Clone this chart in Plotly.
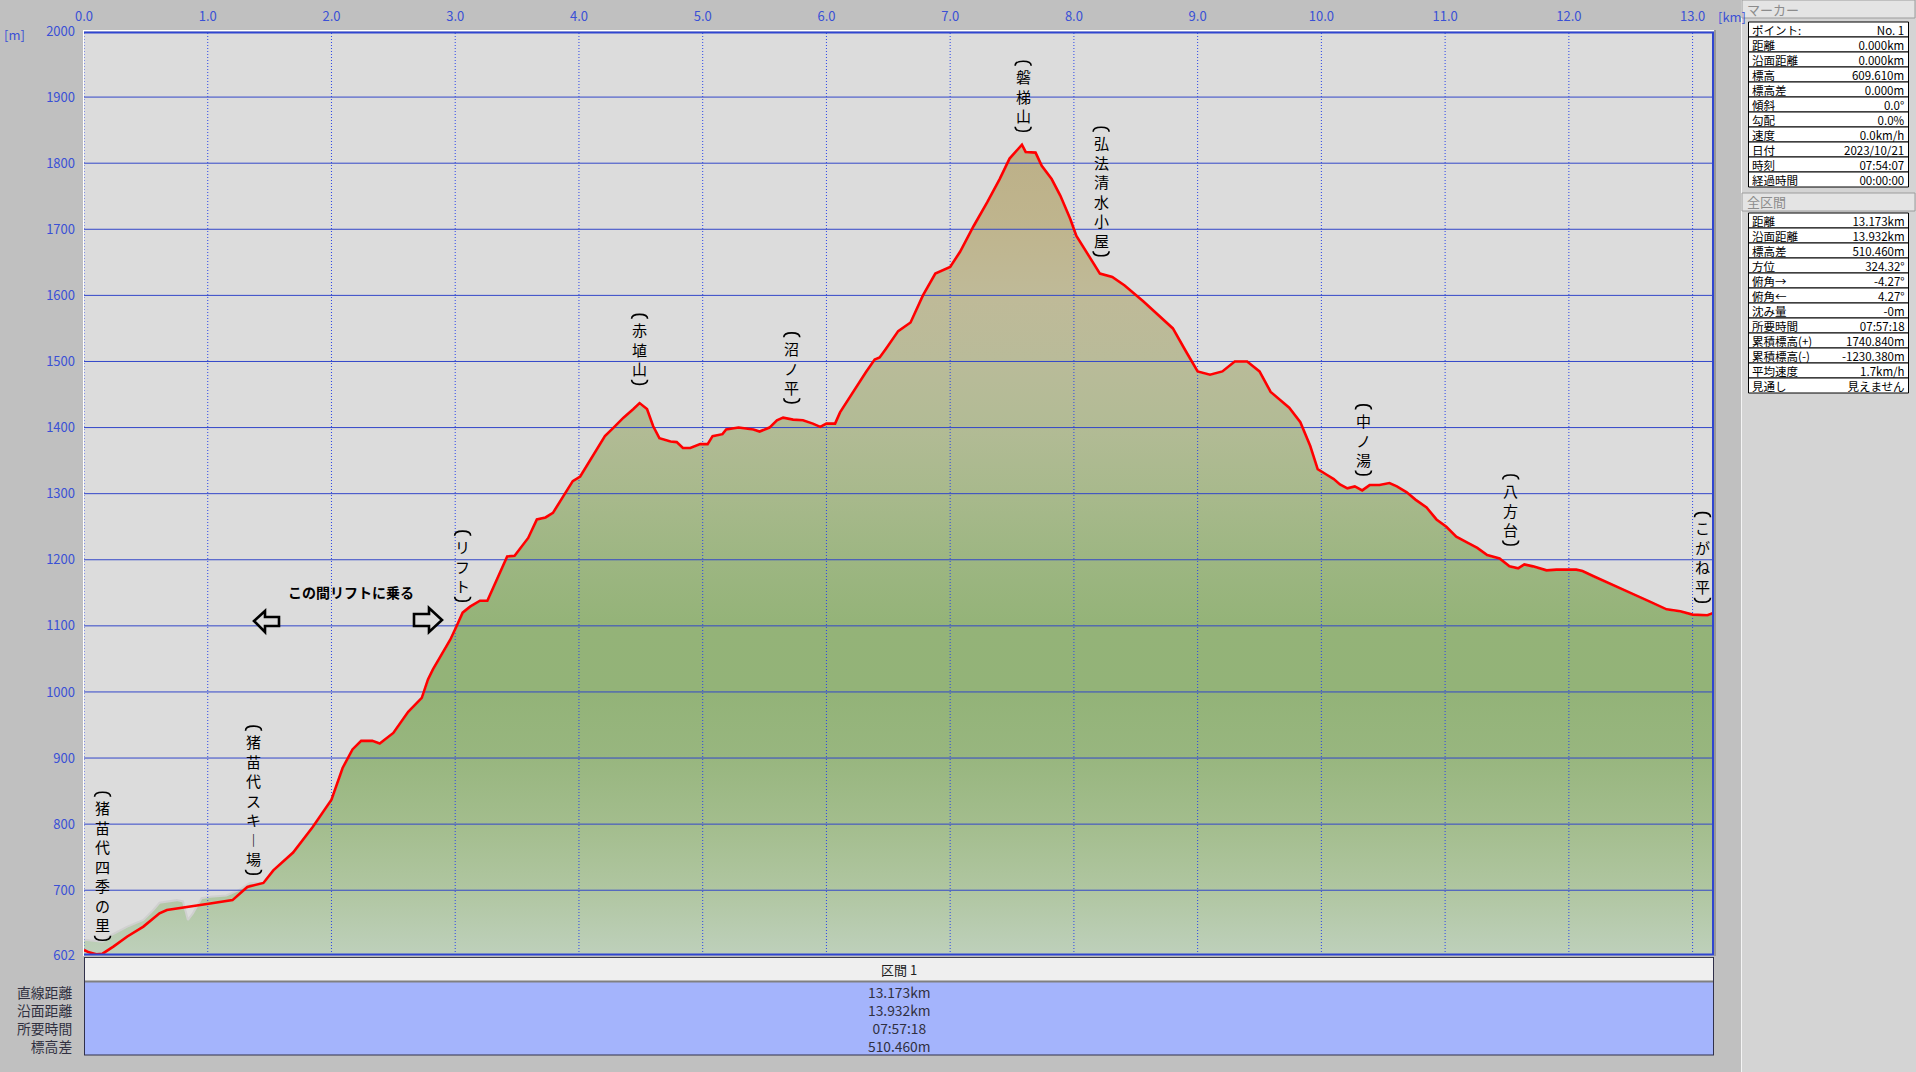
import plotly.graph_objects as go

# ---------------- data ----------------
track_km = [0.00, 0.04, 0.10, 0.15, 0.24, 0.35, 0.48, 0.61, 0.67, 0.83, 1.02, 1.20, 1.32, 1.45, 1.53, 1.69,
            1.85, 2.00, 2.09, 2.17, 2.24, 2.33, 2.39, 2.50, 2.62, 2.73, 2.78, 2.82, 2.96, 3.01, 3.06, 3.12,
            3.20, 3.26, 3.30, 3.36, 3.42, 3.48, 3.52, 3.59, 3.66, 3.73, 3.79, 3.87, 3.95, 4.01, 4.11, 4.21,
            4.28, 4.36, 4.44, 4.49, 4.55, 4.60, 4.65, 4.74, 4.79, 4.84, 4.90, 4.98, 5.04, 5.08, 5.16, 5.19,
            5.29, 5.41, 5.46, 5.54, 5.60, 5.65, 5.73, 5.81, 5.89, 5.95, 6.00, 6.07, 6.11, 6.16, 6.24, 6.32,
            6.39, 6.43, 6.48, 6.58, 6.68, 6.78, 6.88, 7.00, 7.08, 7.19, 7.30, 7.40, 7.48, 7.54, 7.58, 7.61,
            7.69, 7.74, 7.82, 7.89, 7.97, 8.02, 8.10, 8.17, 8.21, 8.31, 8.41, 8.56, 8.71, 8.80, 8.90, 9.00,
            9.10, 9.20, 9.30, 9.40, 9.50, 9.59, 9.74, 9.83, 9.91, 9.97, 10.04, 10.10, 10.15, 10.21, 10.27,
            10.33, 10.39, 10.47, 10.55, 10.61, 10.69, 10.76, 10.85, 10.93, 11.01, 11.09, 11.18, 11.26,
            11.34, 11.44, 11.52, 11.59, 11.64, 11.71, 11.82, 11.90, 12.06, 12.11, 12.20, 12.31, 12.41,
            12.52, 12.65, 12.79, 12.90, 13.00, 13.12, 13.173]
track_m = [609.6, 606, 603, 604, 615, 630, 645, 665, 670, 675, 680, 685, 705, 711, 730, 757,
           796, 837, 885, 913, 926, 926, 922, 938, 970, 991, 1019, 1034, 1079, 1099, 1120, 1129,
           1138, 1138, 1155, 1181, 1205, 1206, 1216, 1233, 1261, 1264, 1271, 1296, 1319, 1326, 1357, 1387,
           1400, 1415, 1428, 1437, 1428, 1402, 1384, 1379, 1378, 1369, 1369, 1375, 1375, 1387, 1390, 1397,
           1400, 1397, 1394, 1400, 1411, 1415, 1412, 1411, 1406, 1401, 1406, 1406, 1423, 1438, 1461, 1484,
           1503, 1506, 1519, 1546, 1559, 1600, 1633, 1643, 1666, 1705, 1741, 1776, 1807, 1819, 1828, 1817,
           1816, 1796, 1776, 1751, 1716, 1690, 1666, 1643, 1633, 1628, 1615, 1591, 1565, 1550, 1517, 1485,
           1480, 1485, 1500, 1500, 1485, 1454, 1430, 1408, 1372, 1337, 1329, 1322, 1314, 1308, 1311,
           1305, 1313, 1313, 1316, 1311, 1302, 1291, 1279, 1261, 1250, 1235, 1226, 1218,
           1207, 1202, 1190, 1187, 1193, 1190, 1184, 1185, 1185, 1183, 1175, 1166, 1158,
           1148, 1137, 1125, 1122, 1117, 1116, 1120.07]

# map (DEM) elevation where it differs from the track near the start
terrain_start_km = [0.00, 0.15, 0.22, 0.35, 0.48, 0.56, 0.61, 0.75, 0.80, 0.84, 0.88, 0.95, 1.02, 1.15, 1.25, 1.34, 1.45]
terrain_start_m = [625, 622, 632, 645, 655, 670, 681, 685, 683, 655, 665, 688, 690, 692, 700, 711, 711]

total_km = 13.173
y_min, y_max = 602, 2000
x_ticks = list(range(0, 14))
x_tick_labels = ["%.1f" % v for v in x_ticks]
y_ticks = [602, 700, 800, 900, 1000, 1100, 1200, 1300, 1400, 1500, 1600, 1700, 1800, 1900, 2000]
y_tick_labels = [str(v) for v in y_ticks]
y_grid = [700, 800, 900, 1000, 1100, 1200, 1300, 1400, 1500, 1600, 1700, 1800, 1900]

# place-name labels: text, km, elevation of the label top
place_names = ["猪苗代四季の里", "猪苗代スキー場", "リフト", "赤埴山", "沼ノ平", "磐梯山",
               "弘法清水小屋", "中ノ湯", "八方台", "こがね平"]
place_km = [0.15, 1.37, 3.06, 4.49, 5.72, 7.59, 8.22, 10.34, 11.53, 13.08]
place_top_m = [846, 946, 1241, 1569, 1541, 1952, 1852, 1432, 1326, 1269]

lift_note = "この間リフトに乗る"

section_title = "区間 1"
section_row_names = ["直線距離", "沿面距離", "所要時間", "標高差"]
section_row_values = ["13.173km", "13.932km", "07:57:18", "510.460m"]

marker_title = "マーカー"
marker_names = ["ポイント:", "距離", "沿面距離", "標高", "標高差", "傾斜", "勾配", "速度", "日付", "時刻", "経過時間"]
marker_values = ["No. 1", "0.000km", "0.000km", "609.610m", "0.000m", "0.0°", "0.0%", "0.0km/h",
                 "2023/10/21", "07:54:07", "00:00:00"]
total_title = "全区間"
total_names = ["距離", "沿面距離", "標高差", "方位", "俯角→", "俯角←", "沈み量", "所要時間",
               "累積標高(+)", "累積標高(-)", "平均速度", "見通し"]
total_values = ["13.173km", "13.932km", "510.460m", "324.32°", "-4.27°", "4.27°", "-0m", "07:57:18",
                "1740.840m", "-1230.380m", "1.7km/h", "見えません"]

# ---------------- styling ----------------
JP = "Noto Sans CJK JP"
BLUE_TXT = "#3a50d6"
GRID = "#3347c9"
W, H = 1916, 1072
L, R, T, B = 84, 1714, 31, 955
KM_PER_PX = total_km / (R - L)
M_PER_PX = (y_max - y_min) / (B - T)


def pxx(xp):
    return (xp - L) / (R - L)


def pxy(yp):
    return (B - yp) / (B - T)


grad = [
    [0.000, "#bed0bb"], [0.070, "#b0c6a1"], [0.142, "#a3bd8d"], [0.213, "#98b67f"],
    [0.285, "#93b378"], [0.356, "#94b378"], [0.428, "#9db682"], [0.499, "#a8b98c"],
    [0.571, "#b2bb95"], [0.642, "#b9bb99"], [0.714, "#bfba98"], [0.785, "#bfb58e"],
    [0.857, "#bdb189"], [1.000, "#bcaf86"],
]

fig = go.Figure()

cut = terrain_start_km[-1]
terrain_km = terrain_start_km + [k for k in track_km if k > cut]
terrain_m = terrain_start_m + [m for k, m in zip(track_km, track_m) if k > cut]

fig.add_trace(go.Scatter(
    x=terrain_km, y=terrain_m, mode="lines", fill="tozeroy",
    fillgradient=dict(type="vertical", colorscale=grad, start=y_min, stop=y_max),
    line=dict(color="#d0d0d0", width=2), hoverinfo="skip", showlegend=False))

hx, hy = [], []
for v in y_grid:
    hx += [0, total_km, None]
    hy += [v, v, None]
fig.add_trace(go.Scatter(x=hx, y=hy, mode="lines", line=dict(color=GRID, width=1),
                         hoverinfo="skip", showlegend=False))
vx, vy = [], []
for k in x_ticks:
    vx += [k, k, None]
    vy += [y_min, y_max, None]
fig.add_trace(go.Scatter(x=vx, y=vy, mode="lines", line=dict(color="#2b45e8", width=1, dash="1px,2px"),
                         hoverinfo="skip", showlegend=False))

fig.add_trace(go.Scatter(x=track_km, y=track_m, mode="lines", line=dict(color="#ff0000", width=2.6),
                         hoverinfo="skip", showlegend=False))

ann = []
shapes = []

# vertical place labels (one text per label, top to bottom) with arc brackets
LINE = 19.5   # line pitch of the stacked characters (15px font * 1.3)
BR_GAP = 14   # distance from bracket to neighbouring character


def bracket_path(km, m, opening):
    s = 1 if opening else -1
    pts = [(-8, 3 * s), (-8, -1 * s), (-3, -1.5 * s), (0, -1.5 * s), (3, -1.5 * s), (8, -1 * s), (8, 3 * s)]
    xy = [(km + dx * KM_PER_PX, m - dy * M_PER_PX) for dx, dy in pts]
    f = lambda p: "%.5f,%.4f" % p
    return "M %s C %s %s %s C %s %s %s" % tuple(f(p) for p in xy)


for name, km, top in zip(place_names, place_km, place_top_m):
    chars = [("︱" if c == "ー" else c) for c in name]
    n = len(chars)
    ann.append(dict(x=km, y=top, xref="x", yref="y", text="<br>".join(chars), showarrow=False,
                    yshift=-(BR_GAP + LINE * (n - 1) / 2.0), xanchor="center", yanchor="middle", align="center",
                    font=dict(family=JP, size=15, color="#000000")))
    bottom = top - (2 * BR_GAP + LINE * (n - 1)) * M_PER_PX
    shapes.append(dict(type="path", xref="x", yref="y", path=bracket_path(km, top, True),
                       line=dict(color="#000000", width=1.6), layer="above"))
    shapes.append(dict(type="path", xref="x", yref="y", path=bracket_path(km, bottom, False),
                       line=dict(color="#000000", width=1.6), layer="above"))

# lift note and outlined arrows
ann.append(dict(x=pxx(351), y=pxy(592), xref="paper", yref="paper", text="<b>%s</b>" % lift_note,
                showarrow=False, xanchor="center", yanchor="middle",
                font=dict(family=JP, size=14, color="#000000")))


def arrow_path(pts):
    return "M " + " L ".join("%.6f,%.6f" % (pxx(a), pxy(b)) for a, b in pts) + " Z"


left_arrow = [(254, 621), (265, 611), (265, 617), (279, 617), (279, 626), (265, 626), (265, 632)]
right_arrow = [(442, 620), (429, 608), (429, 614), (414, 614), (414, 626), (429, 626), (429, 632)]
for pts in (left_arrow, right_arrow):
    shapes.append(dict(type="path", xref="paper", yref="paper", path=arrow_path(pts),
                       fillcolor="#dcdcdc", line=dict(color="#000000", width=2.6), layer="above"))

# unit labels
ann.append(dict(x=pxx(2), y=pxy(34), xref="paper", yref="paper", text="[m]", showarrow=False,
                xanchor="left", yanchor="middle", font=dict(family=JP, size=13, color=BLUE_TXT)))
ann.append(dict(x=pxx(1716), y=pxy(16), xref="paper", yref="paper", text="[km]", showarrow=False,
                xanchor="left", yanchor="middle", font=dict(family=JP, size=13, color=BLUE_TXT)))

# plot frame
shapes.append(dict(type="line", xref="paper", yref="paper", x0=pxx(83), x1=pxx(1714), y0=pxy(30.5), y1=pxy(30.5),
                   line=dict(color="#ffffff", width=1), layer="above"))
shapes.append(dict(type="line", xref="paper", yref="paper", x0=pxx(83.5), x1=pxx(83.5), y0=pxy(30.5), y1=pxy(956),
                   line=dict(color="#ffffff", width=1), layer="above"))
shapes.append(dict(type="line", xref="paper", yref="paper", x0=pxx(84), x1=pxx(1714), y0=pxy(32.5), y1=pxy(32.5),
                   line=dict(color="#2f45d0", width=2), layer="above"))
shapes.append(dict(type="line", xref="paper", yref="paper", x0=pxx(1713), x1=pxx(1713), y0=pxy(32), y1=pxy(955),
                   line=dict(color="#2f45d0", width=2), layer="above"))
shapes.append(dict(type="line", xref="paper", yref="paper", x0=pxx(1715), x1=pxx(1715), y0=pxy(30), y1=pxy(956),
                   line=dict(color="#707070", width=1), layer="above"))
shapes.append(dict(type="line", xref="paper", yref="paper", x0=pxx(84), x1=pxx(1714), y0=pxy(954.5), y1=pxy(954.5),
                   line=dict(color="#2f45d0", width=2), layer="above"))

# bottom section table
shapes.append(dict(type="rect", xref="paper", yref="paper", x0=pxx(84), x1=pxx(1714), y0=pxy(957), y1=pxy(982),
                   fillcolor="#efefef", line=dict(width=0), layer="above"))
shapes.append(dict(type="rect", xref="paper", yref="paper", x0=pxx(84), x1=pxx(1714), y0=pxy(982), y1=pxy(1055),
                   fillcolor="#a4b4fc", line=dict(width=0), layer="above"))
shapes.append(dict(type="line", xref="paper", yref="paper", x0=pxx(84), x1=pxx(1714), y0=pxy(957.5), y1=pxy(957.5),
                   line=dict(color="#3c3c48", width=1), layer="above"))
shapes.append(dict(type="line", xref="paper", yref="paper", x0=pxx(84), x1=pxx(1714), y0=pxy(981.5), y1=pxy(981.5),
                   line=dict(color="#808080", width=2), layer="above"))
shapes.append(dict(type="line", xref="paper", yref="paper", x0=pxx(84), x1=pxx(1714), y0=pxy(1055), y1=pxy(1055),
                   line=dict(color="#30304a", width=1), layer="above"))
shapes.append(dict(type="line", xref="paper", yref="paper", x0=pxx(84.5), x1=pxx(84.5), y0=pxy(957), y1=pxy(1055),
                   line=dict(color="#30304a", width=1), layer="above"))
shapes.append(dict(type="line", xref="paper", yref="paper", x0=pxx(1713.5), x1=pxx(1713.5), y0=pxy(957), y1=pxy(1055),
                   line=dict(color="#30304a", width=1), layer="above"))
ann.append(dict(x=pxx(899), y=pxy(970), xref="paper", yref="paper", text=section_title, showarrow=False,
                xanchor="center", yanchor="middle", font=dict(family=JP, size=13, color="#202020")))
sec_center = 992 + 18 * (len(section_row_names) - 1) / 2.0
ann.append(dict(x=pxx(74), y=pxy(sec_center), xref="paper", yref="paper", text="<br>".join(section_row_names),
                showarrow=False, xanchor="right", yanchor="middle", align="right",
                font=dict(family=JP, size=13.8, color="#303040")))
ann.append(dict(x=pxx(899), y=pxy(sec_center), xref="paper", yref="paper", text="<br>".join(section_row_values),
                showarrow=False, xanchor="center", yanchor="middle", align="center",
                font=dict(family=JP, size=13.8, color="#303040")))

# right info panel
shapes.append(dict(type="rect", xref="paper", yref="paper", x0=pxx(1741), x1=pxx(1916), y0=pxy(0), y1=pxy(1072),
                   fillcolor="#d4d4d4", line=dict(width=0), layer="above"))
shapes.append(dict(type="line", xref="paper", yref="paper", x0=pxx(1741.5), x1=pxx(1741.5), y0=pxy(0), y1=pxy(1072),
                   line=dict(color="#f4f4f4", width=1), layer="above"))

ROW = 15


def panel_block(title, names, values, head_top, table_top):
    shapes.append(dict(type="rect", xref="paper", yref="paper", x0=pxx(1742), x1=pxx(1915), y0=pxy(head_top),
                       y1=pxy(head_top + 18), fillcolor="#e4e4e4", line=dict(color="#9c9c9c", width=1),
                       layer="above"))
    ann.append(dict(x=pxx(1745), y=pxy(head_top + 9), xref="paper", yref="paper", text=title, showarrow=False,
                    xanchor="left", yanchor="middle", font=dict(family=JP, size=13, color="#8c8c8c")))
    for i in range(len(names)):
        y0 = table_top + ROW * i
        shapes.append(dict(type="rect", xref="paper", yref="paper", x0=pxx(1748.5), x1=pxx(1908.5),
                           y0=pxy(y0), y1=pxy(y0 + ROW), fillcolor="#ffffff",
                           line=dict(color="#000000", width=1), layer="above"))
    mid = table_top + ROW * len(names) / 2.0
    ann.append(dict(x=pxx(1750), y=pxy(mid), xref="paper", yref="paper", text="<br>".join(names),
                    showarrow=False, xanchor="left", yanchor="middle", align="left",
                    font=dict(family=JP, size=ROW / 1.3, color="#000000")))
    ann.append(dict(x=pxx(1907), y=pxy(mid), xref="paper", yref="paper", text="<br>".join(values),
                    showarrow=False, xanchor="right", yanchor="middle", align="right",
                    font=dict(family=JP, size=ROW / 1.3, color="#000000")))


panel_block(marker_title, marker_names, marker_values, 0, 22)
panel_block(total_title, total_names, total_values, 193, 213)

fig.update_layout(
    width=W, height=H,
    margin=dict(l=L, r=W - R, t=T, b=H - B, pad=0, autoexpand=False),
    paper_bgcolor="#c0c0c0", plot_bgcolor="#dcdcdc",
    showlegend=False,
    xaxis=dict(range=[0, total_km], side="top", tickmode="array", tickvals=x_ticks, ticktext=x_tick_labels,
               showgrid=False, zeroline=False, showline=False, ticks="", ticklabelstandoff=6,
               automargin=False,
               tickfont=dict(family=JP, size=13, color=BLUE_TXT), fixedrange=True),
    yaxis=dict(range=[y_min, y_max], tickmode="array", tickvals=y_ticks, ticktext=y_tick_labels,
               showgrid=False, zeroline=False, showline=False, ticks="", ticklabelstandoff=8,
               automargin=False,
               tickfont=dict(family=JP, size=13, color=BLUE_TXT), fixedrange=True),
    annotations=ann,
    shapes=shapes,
)

fig.write_html("out.html", config={"displayModeBar": False},
               post_script="document.body.style.margin='0';document.body.style.overflow='hidden';")
